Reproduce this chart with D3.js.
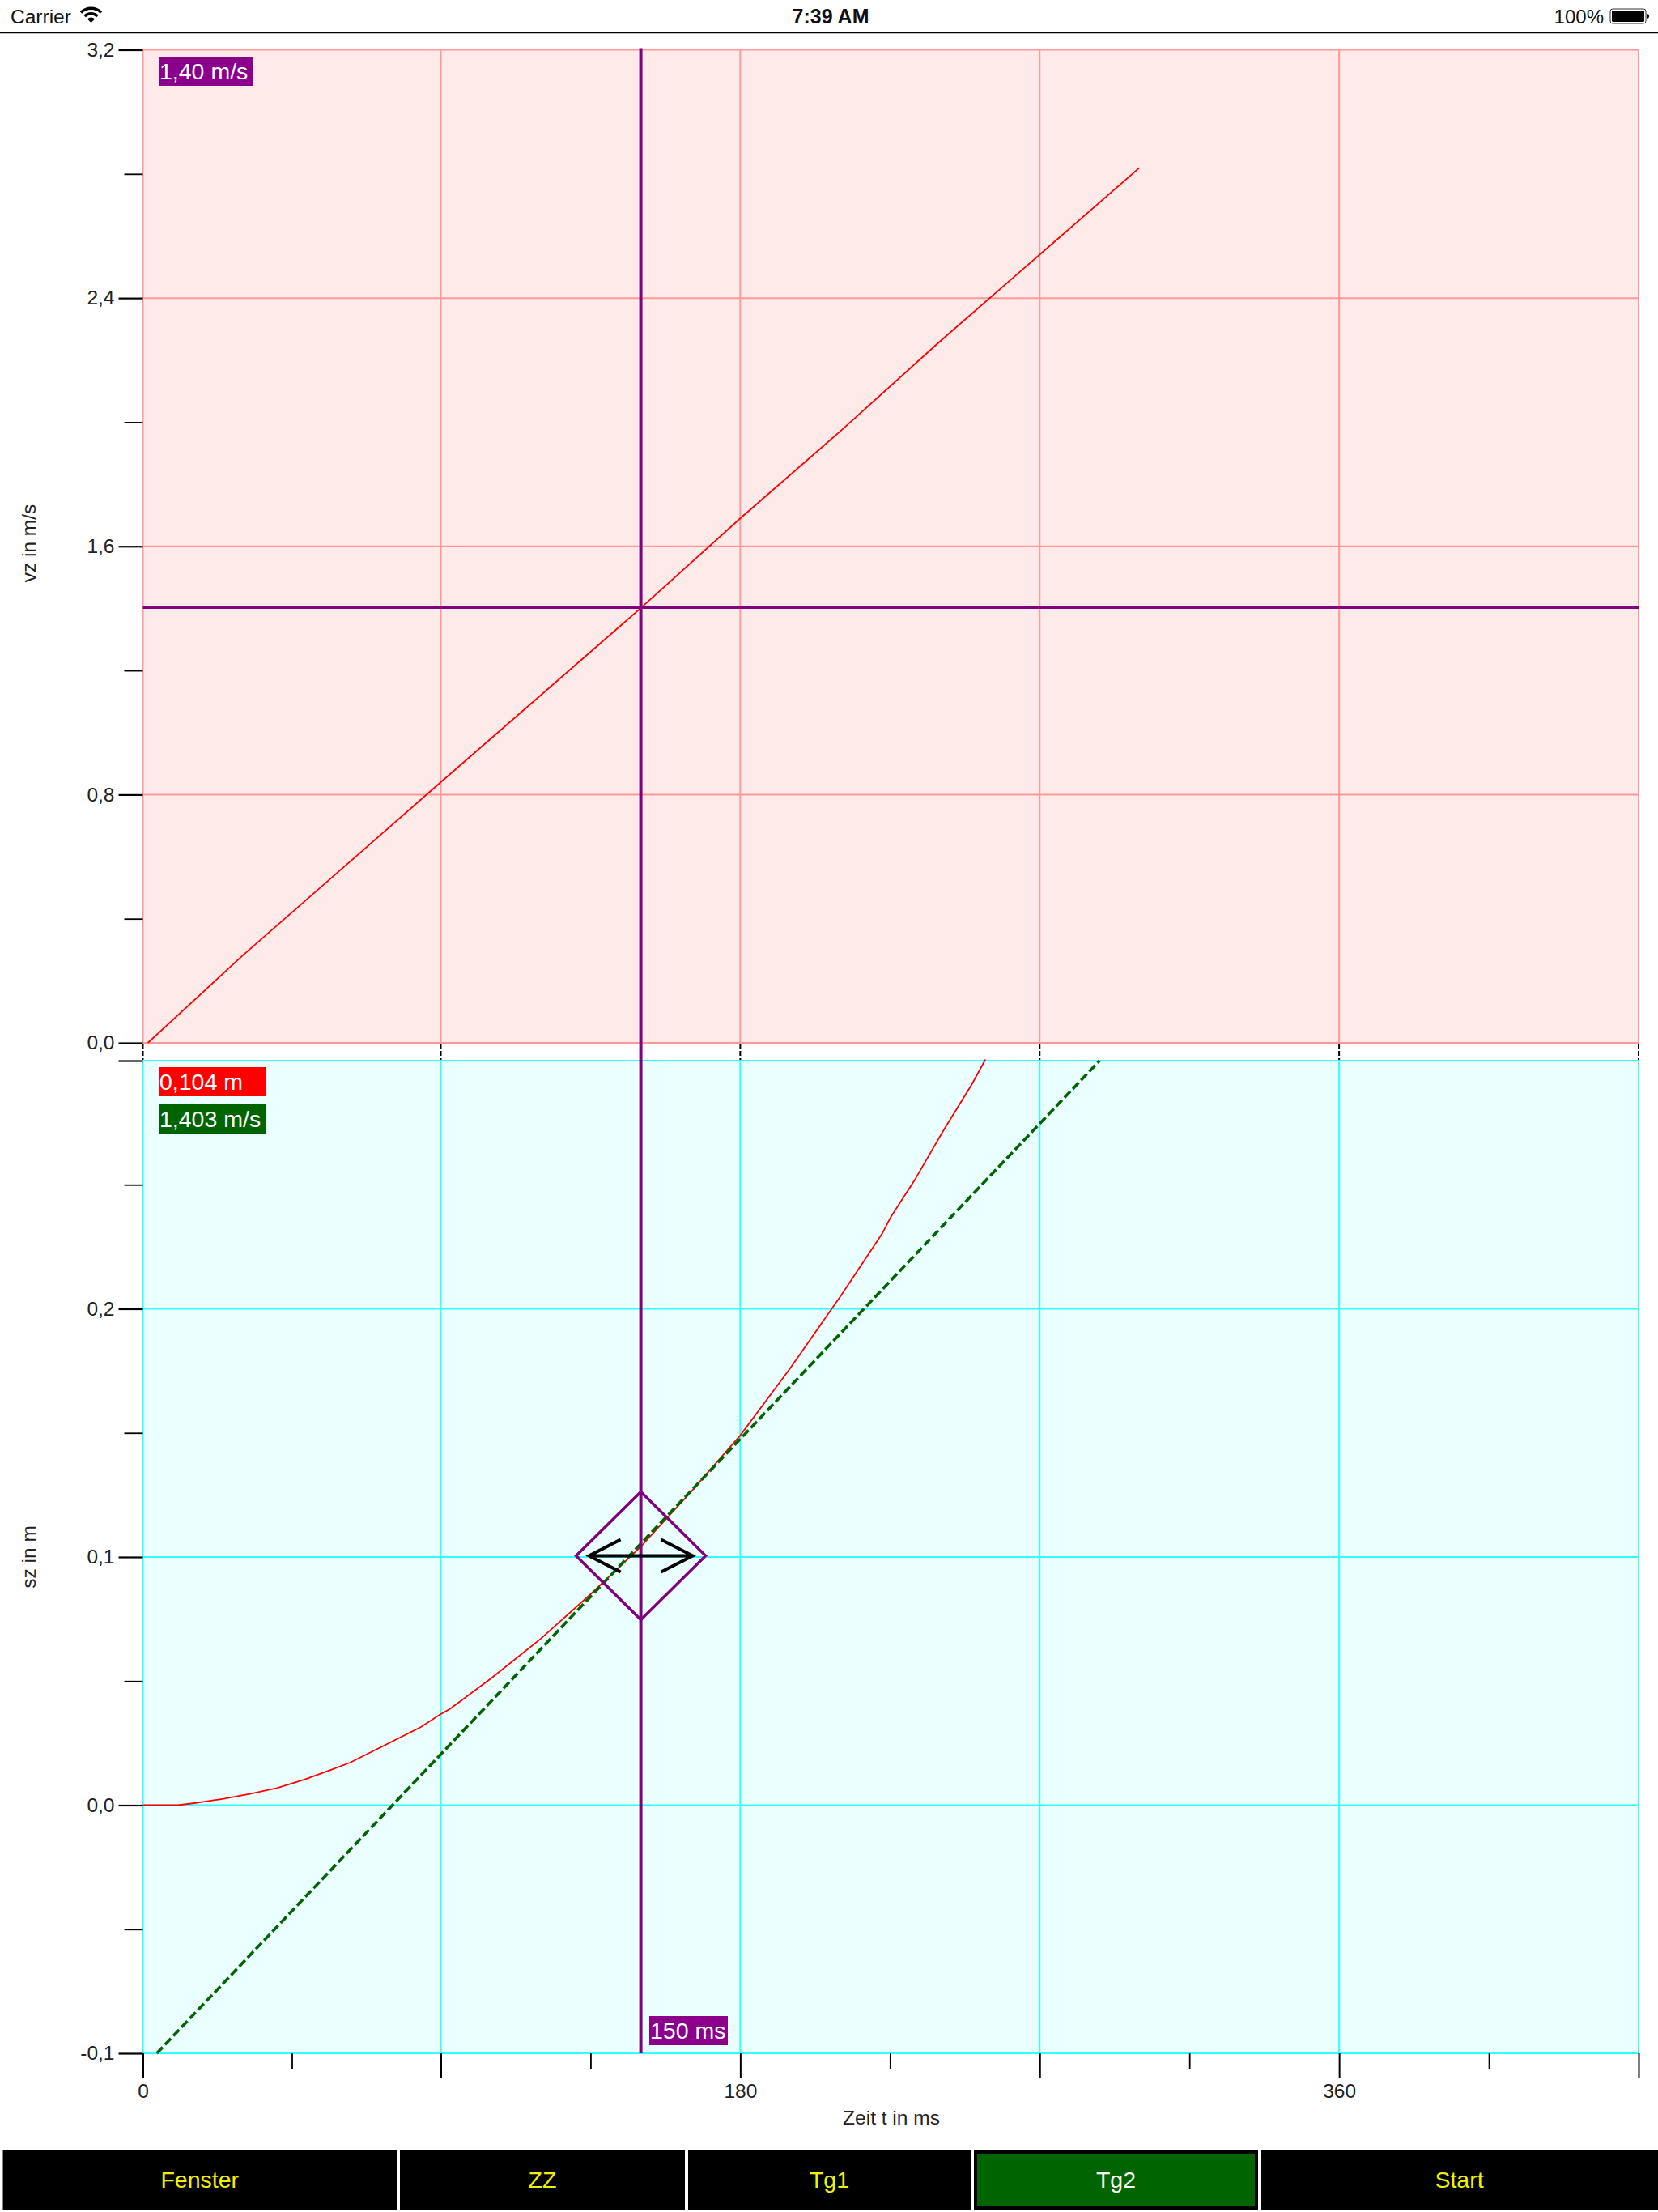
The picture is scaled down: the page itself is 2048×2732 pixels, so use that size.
<!DOCTYPE html>
<html><head><meta charset="utf-8">
<script src="https://cdn.jsdelivr.net/npm/d3@7"></script>
<style>html,body{margin:0;padding:0;background:#fff}svg{display:block}text{font-family:"Liberation Sans",Arial,sans-serif}</style>
</head><body><div id="c"></div>
<script>
// ---- data ----
const vTimes=[1.5,30,60,90,120,150,180,210,240,270,300];
const vValues=[0,0.28,0.56,0.84,1.12,1.40,1.69,1.97,2.26,2.54,2.82];
const sTimes=[0,10.6,16,24.4,32.6,40.7,48.8,57,62.7,84,89.6,92.9,105,120,135,150,165,180,195,210.3,222.7,225.2,232.3,241,249.5,253.7];
const sValues=[0,0,0.0009,0.0026,0.0046,0.007,0.0103,0.0143,0.0172,0.0315,0.0364,0.0389,0.051,0.067,0.085,0.104,0.126,0.149,0.176,0.2054,0.2304,0.2369,0.2516,0.2717,0.2902,0.3005];
const tangentTimes=[4.2,288];
const tangentValues=[-0.1,0.3];
const cursorTime=[150];
const cursorSpeed=[1.40];
const handleHeight=[0.1];
const xMajor=[0,90,180,270,360,450];
const xMinor=[45,135,225,315,405];
const xLabelled=[0,180,360];
const vMajor=[0,0.8,1.6,2.4,3.2];
const vMinor=[0.4,1.2,2.0,2.8];
const sMajor=[-0.1,0,0.1,0.2,0.3];
const sMinor=[-0.05,0.05,0.15,0.25];
const sLabelled=[-0.1,0,0.1,0.2];
const readouts=[
 {text:"1,40 m/s",fill:"#8b008b",x:196,y:70,w:116},
 {text:"0,104 m",fill:"#ff0000",x:196,y:1318,w:133},
 {text:"1,403 m/s",fill:"#006400",x:196,y:1364,w:133},
 {text:"150 ms",fill:"#8b008b",x:802,y:2490,w:97}];
const buttons=[
 {text:"Fenster",x0:3.5,x1:490},{text:"ZZ",x0:494,x1:846},{text:"Tg1",x0:850,x1:1199},
 {text:"Tg2",x0:1203,x1:1554,on:true},{text:"Start",x0:1557,x1:2048}];

const W=2048,H=2732,L=176.5,R=2024,T1=61.5,B1=1288,T2=1310,B2=2536;
const comma=d=>d3.format(".1f")(d).replace(".",",").replace("\u2212","-");
const svg=d3.select("#c").append("svg").attr("width",W).attr("height",H);
const x=d3.scaleLinear().domain([0,90,450]).range([L,544.5,R]);
const yV=d3.scaleLinear().domain([0,3.2]).range([B1,T1]);
const yS=d3.scaleLinear().domain([-0.1,0.3]).range([B2,T2]);
const FONT=24.5,INK="#222";

function panel(y,ticks,fill,grid){
  const g=svg.append("g");
  g.append("rect").attr("x",L).attr("y",y.range()[1]).attr("width",R-L).attr("height",y.range()[0]-y.range()[1]).attr("fill",fill);
  g.selectAll("line.v").data(xMajor).join("line").attr("class","v").attr("x1",d=>x(d)).attr("x2",d=>x(d)).attr("y1",y.range()[1]).attr("y2",y.range()[0]).attr("stroke",grid).attr("stroke-width",2);
  g.selectAll("line.h").data(ticks).join("line").attr("class","h").attr("x1",L).attr("x2",R).attr("y1",d=>y(d)).attr("y2",d=>y(d)).attr("stroke",grid).attr("stroke-width",2);
}
panel(yV,vMajor,"#ffeaea","#ff9999");
panel(yS,sMajor,"#eaffff","#33ffff");

function styleAxis(g){g.select(".domain").remove();g.selectAll("line").attr("stroke","#000");
  g.selectAll("text").attr("font-size",FONT).attr("fill",INK).attr("font-family",'"Liberation Sans",Arial,sans-serif');}
// y axes
[[yV,vMajor,vMinor,vMajor],[yS,sMajor,sMinor,sLabelled]].forEach(([y,maj,min,lab])=>{
  svg.append("g").attr("transform",`translate(${L},0)`).call(d3.axisLeft(y).tickValues(min).tickSize(23).tickFormat("")).call(styleAxis).selectAll("line").attr("stroke-width",1.8);
  svg.append("g").attr("transform",`translate(${L},0)`).call(d3.axisLeft(y).tickValues(maj).tickSize(30).tickPadding(5).tickFormat(d=>lab.includes(d)?comma(d):"")).call(styleAxis).selectAll("line").attr("stroke-width",2.2);
});
// x axis
svg.append("g").attr("transform",`translate(0,${B2})`).call(d3.axisBottom(x).tickValues(xMinor).tickSize(20).tickFormat("")).call(styleAxis).selectAll("line").attr("stroke-width",1.8);
const xa=svg.append("g").attr("transform",`translate(0,${B2})`).call(d3.axisBottom(x).tickValues(xMajor).tickSize(30).tickPadding(8).tickFormat(d=>xLabelled.includes(d)?String(d):"")).call(styleAxis);
xa.selectAll("line").attr("stroke-width",2);
// dashed links in the gap
svg.append("g").selectAll("line").data(xMajor).join("line").attr("x1",d=>x(d)).attr("x2",d=>x(d)).attr("y1",B1+1).attr("y2",T2-1).attr("stroke","#000").attr("stroke-width",2).attr("stroke-dasharray","6 3");

// curves
const lv=d3.line().x((d,i)=>x(vTimes[i])).y(d=>yV(d));
svg.append("path").attr("d",lv(vValues)).attr("fill","none").attr("stroke","#ff0000").attr("stroke-width",1.8);
const ls=d3.line().x((d,i)=>x(sTimes[i])).y(d=>yS(d));
svg.append("path").attr("d",ls(sValues)).attr("fill","none").attr("stroke","#ff0000").attr("stroke-width",1.8);
const lt=d3.line().x((d,i)=>x(tangentTimes[i])).y(d=>yS(d));
svg.append("path").attr("d",lt(tangentValues)).attr("fill","none").attr("stroke","#006400").attr("stroke-width",3.6).attr("stroke-dasharray","10.5 4.3");

// cursor
const purple="#800080";
svg.append("line").attr("x1",x(cursorTime[0])+0.5).attr("x2",x(cursorTime[0])+0.5).attr("y1",T1-2).attr("y2",B2).attr("stroke",purple).attr("stroke-width",4);
svg.append("line").attr("x1",L).attr("x2",R).attr("y1",yV(cursorSpeed[0])-1).attr("y2",yV(cursorSpeed[0])-1).attr("stroke",purple).attr("stroke-width",3.4);

// handle
const hx=x(cursorTime[0])+0.5,hy=yS(handleHeight[0])-1.5;
svg.append("path").attr("d",d3.line()([[hx,hy-79],[hx+80,hy],[hx,hy+79],[hx-80,hy]])+"Z").attr("fill","none").attr("stroke",purple).attr("stroke-width",3.5);
svg.append("path").attr("d",`M${hx-25},${hy-20}L${hx-64},${hy}L${hx-25},${hy+20}M${hx-64},${hy}H${hx+64}M${hx+25},${hy-20}L${hx+64},${hy}L${hx+25},${hy+20}`).attr("fill","none").attr("stroke","#000").attr("stroke-width",4);

// readout boxes
const rg=svg.append("g").selectAll("g").data(readouts).join("g");
rg.append("rect").attr("x",d=>d.x).attr("y",d=>d.y).attr("width",d=>d.w).attr("height",36).attr("fill",d=>d.fill);
rg.append("text").attr("x",d=>d.x+1).attr("y",d=>d.y+28).attr("font-size",28.5).attr("fill","#fff").text(d=>d.text);

// axis titles
svg.append("text").attr("x",1101).attr("y",2624).attr("text-anchor","middle").attr("font-size",FONT).attr("fill",INK).text("Zeit t in ms");
[["vz in m/s",671],["sz in m",1923]].forEach(([t,cy])=>svg.append("text").attr("transform",`translate(44,${cy}) rotate(-90)`).attr("text-anchor","middle").attr("font-size",FONT).attr("fill",INK).text(t));

// buttons
const bg=svg.append("g").selectAll("g").data(buttons).join("g");
bg.append("rect").attr("x",d=>d.x0).attr("y",2656).attr("width",d=>d.x1-d.x0).attr("height",73).attr("fill","#000");
bg.filter(d=>d.on).append("rect").attr("x",d=>d.x0+4).attr("y",2660).attr("width",d=>d.x1-d.x0-8).attr("height",65).attr("fill","#006400");
bg.append("text").attr("x",d=>(d.x0+d.x1)/2).attr("y",2702).attr("text-anchor","middle").attr("font-size",28.5).attr("fill",d=>d.on?"#fff":"#f0f000").text(d=>d.text);

// status bar
svg.append("line").attr("x1",0).attr("x2",W).attr("y1",40.5).attr("y2",40.5).attr("stroke","#000").attr("stroke-width",1.6);
svg.append("text").attr("x",13).attr("y",29).attr("font-size",24.5).attr("fill","#111").text("Carrier");
svg.append("text").attr("x",1026).attr("y",29).attr("text-anchor","middle").attr("font-size",25).attr("font-weight","bold").attr("fill","#111").text("7:39 AM");
svg.append("text").attr("x",1981).attr("y",29).attr("text-anchor","end").attr("font-size",24).attr("fill","#111").text("100%");
const wifi=svg.append("g").attr("transform","translate(112.5,28)");
wifi.append("path").attr("d",d3.arc()({innerRadius:16,outerRadius:19.5,startAngle:-0.78,endAngle:0.78})).attr("fill","#000");
wifi.append("path").attr("d",d3.arc()({innerRadius:9.5,outerRadius:13,startAngle:-0.78,endAngle:0.78})).attr("fill","#000");
wifi.append("path").attr("d",d3.arc()({innerRadius:0,outerRadius:6.5,startAngle:-0.78,endAngle:0.78})).attr("fill","#000");
svg.append("rect").attr("x",1989).attr("y",11).attr("width",44).attr("height",18).attr("rx",3).attr("fill","none").attr("stroke","#333").attr("stroke-width",1);
svg.append("rect").attr("x",1991).attr("y",13).attr("width",40).attr("height",14).attr("rx",1.5).attr("fill","#000");
svg.append("path").attr("d","M2034,17a3,3 0 0 1 0,6Z").attr("fill","#000");
</script></body></html>
